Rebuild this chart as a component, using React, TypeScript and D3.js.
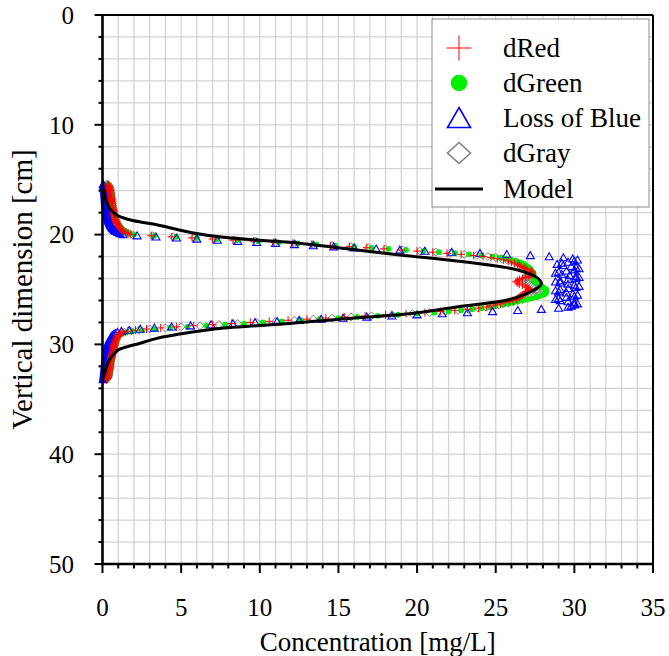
import React from 'react';
import * as d3 from 'd3';

// Depth of each measurement [cm]
const depthCm = [
  15.4, 15.5, 15.6, 15.7, 15.8, 15.9,
  16.0, 16.1, 16.2, 16.3, 16.4, 16.5, 16.6, 16.7, 16.8, 16.9,
  17.0, 17.1, 17.2, 17.3, 17.4, 17.5, 17.6, 17.7, 17.8, 17.9,
  18.0, 18.1, 18.2, 18.3, 18.4, 18.5, 18.6, 18.7, 18.8, 18.9,
  19.0, 19.1, 19.2, 19.3, 19.4, 19.5, 19.6, 19.7, 19.8, 19.9,
  20.0, 20.1, 20.2, 20.3, 20.4, 20.5, 20.6, 20.7, 20.8, 20.9,
  21.0, 21.1, 21.2, 21.3, 21.4, 21.5, 21.6, 21.7, 21.8, 21.9,
  22.0, 22.1, 22.2, 22.3, 22.4, 22.5, 22.6, 22.7, 22.8, 22.9,
  23.0, 23.1, 23.2, 23.3, 23.4, 23.5, 23.6, 23.7, 23.8, 23.9,
  24.0, 24.1, 24.2, 24.3, 24.4, 24.5, 24.6, 24.7, 24.8, 24.9,
  25.0, 25.1, 25.2, 25.3, 25.4, 25.5, 25.6, 25.7, 25.8, 25.9,
  26.0, 26.1, 26.2, 26.3, 26.4, 26.5, 26.6, 26.7, 26.8, 26.9,
  27.0, 27.1, 27.2, 27.3, 27.4, 27.5, 27.6, 27.7, 27.8, 27.9,
  28.0, 28.1, 28.2, 28.3, 28.4, 28.5, 28.6, 28.7, 28.8, 28.9,
  29.0, 29.1, 29.2, 29.3, 29.4, 29.5, 29.6, 29.7, 29.8, 29.9,
  30.0, 30.1, 30.2, 30.3, 30.4, 30.5, 30.6, 30.7, 30.8, 30.9,
  31.0, 31.1, 31.2, 31.3, 31.4, 31.5, 31.6, 31.7, 31.8, 31.9,
  32.0, 32.1, 32.2, 32.3, 32.4, 32.5, 32.6, 32.7, 32.8, 32.9,
  33.0, 33.1, 33.2,
];

// Concentration [mg/L] at each depth, per colour channel
const dRed = [
  0.30, 0.38, 0.42, 0.45, 0.40, 0.48,
  0.50, 0.46, 0.52, 0.50, 0.55, 0.52, 0.56, 0.54, 0.58, 0.56,
  0.60, 0.58, 0.62, 0.60, 0.64, 0.62, 0.66, 0.65, 0.68, 0.67,
  0.70, 0.70, 0.72, 0.74, 0.76, 0.78, 0.80, 0.83, 0.86, 0.89,
  0.92, 0.96, 1.00, 1.05, 1.10, 1.17, 1.25, 1.35, 1.48, 1.62,
  1.8, 3.1, 4.4, 5.7, 7.0, 8.3, 9.6, 10.9, 12.1, 13.3,
  14.5, 15.7, 16.8, 17.9, 19.0, 20.0, 21.0, 21.9, 22.8, 23.6,
  24.2, 24.7, 25.1, 25.5, 25.8, 26.0, 26.2, 26.4, 26.5, 26.6,
  26.8, 26.9, 27.0, 27.2, 27.3, 27.3, 27.3, 27.2, 27.1, 26.9,
  26.7, 26.5, 26.4, 26.3, 26.4, 26.5, 26.7, 26.9, 27.0, 27.1,
  27.1, 27.1, 27.0, 26.9, 26.8, 26.7, 26.6, 26.5, 26.4, 26.3,
  26.1, 25.9, 25.6, 25.3, 25.0, 24.7, 24.4, 23.9, 23.2, 22.4,
  21.5, 20.5, 19.3, 18.0, 16.7, 15.4, 14.2, 13.0, 11.8, 10.6,
  9.4, 8.2, 7.0, 5.8, 4.7, 3.7, 2.8, 2.1, 1.6, 1.3,
  1.15, 1.05, 1.00, 0.95, 0.90, 0.88, 0.84, 0.82, 0.80, 0.77,
  0.75, 0.73, 0.72, 0.70, 0.68, 0.66, 0.65, 0.63, 0.62, 0.60,
  0.58, 0.57, 0.56, 0.54, 0.53, 0.52, 0.50, 0.49, 0.48, 0.47,
  0.46, 0.45, 0.44, 0.43, 0.42, 0.41, 0.40, 0.39, 0.38, 0.36,
  0.34, 0.30, 0.25,
];

const dGreen = [
  0.35, 0.42, 0.45, 0.48, 0.46, 0.50,
  0.52, 0.50, 0.54, 0.53, 0.57, 0.55, 0.58, 0.57, 0.60, 0.59,
  0.62, 0.61, 0.64, 0.63, 0.66, 0.65, 0.68, 0.68, 0.70, 0.70,
  0.72, 0.73, 0.75, 0.77, 0.79, 0.81, 0.84, 0.87, 0.90, 0.93,
  0.97, 1.01, 1.06, 1.11, 1.17, 1.24, 1.33, 1.44, 1.58, 1.75,
  2.0, 3.3, 4.7, 6.0, 7.3, 8.6, 9.9, 11.2, 12.4, 13.6,
  14.8, 16.0, 17.1, 18.2, 19.3, 20.4, 21.4, 22.4, 23.3, 24.1,
  24.8, 25.3, 25.7, 26.0, 26.3, 26.5, 26.7, 26.8, 26.9, 27.0,
  27.1, 27.2, 27.2, 27.3, 27.3, 27.4, 27.4, 27.4, 27.4, 27.4,
  27.4, 27.4, 27.4, 27.5, 27.6, 27.7, 27.8, 27.9, 28.0, 28.1,
  28.2, 28.2, 28.2, 28.2, 28.1, 28.0, 27.8, 27.6, 27.3, 27.0,
  26.7, 26.4, 26.1, 25.8, 25.4, 25.0, 24.6, 24.1, 23.5, 22.8,
  22.0, 21.1, 20.0, 18.8, 17.5, 16.2, 15.0, 13.8, 12.6, 11.4,
  10.2, 9.0, 7.8, 6.6, 5.4, 4.3, 3.3, 2.5, 1.9, 1.5,
  1.25, 1.12, 1.05, 1.00, 0.95, 0.92, 0.88, 0.85, 0.83, 0.80,
  0.78, 0.76, 0.75, 0.73, 0.71, 0.69, 0.68, 0.66, 0.65, 0.63,
  0.61, 0.60, 0.59, 0.57, 0.56, 0.55, 0.53, 0.52, 0.51, 0.50,
  0.49, 0.48, 0.47, 0.46, 0.45, 0.44, 0.43, 0.42, 0.41, 0.39,
  0.37, 0.33, 0.28,
];

const lossOfBlue = [
  0.05, 0.08, 0.10, 0.10, 0.12, 0.12,
  0.14, 0.14, 0.15, 0.15, 0.16, 0.17, 0.17, 0.18, 0.18, 0.19,
  0.20, 0.20, 0.21, 0.22, 0.22, 0.23, 0.24, 0.25, 0.26, 0.27,
  0.28, 0.29, 0.30, 0.32, 0.33, 0.35, 0.37, 0.39, 0.41, 0.44,
  0.47, 0.50, 0.54, 0.58, 0.63, 0.69, 0.76, 0.85, 0.96, 1.10,
  1.3, 2.2, 3.4, 4.7, 6.0, 7.3, 8.6, 9.8, 11.0, 12.2,
  13.4, 14.7, 16.0, 17.4, 18.9, 20.5, 22.2, 24.0, 25.7, 27.2,
  28.4, 29.3, 29.9, 30.2, 30.0, 29.6, 29.2, 28.9, 29.3, 29.8,
  30.1, 30.3, 30.0, 29.5, 29.0, 28.8, 29.2, 29.7, 30.1, 30.3,
  30.1, 29.6, 29.1, 28.8, 29.1, 29.6, 30.0, 30.3, 30.1, 29.6,
  29.1, 28.8, 29.0, 29.5, 29.9, 30.2, 30.0, 29.5, 29.0, 28.8,
  29.1, 29.6, 30.0, 30.2, 30.0, 29.8, 29.6, 29.0, 27.9, 26.4,
  24.8, 23.2, 21.6, 20.0, 18.4, 16.8, 15.3, 13.9, 12.5, 11.1,
  9.7, 8.3, 6.9, 5.6, 4.4, 3.3, 2.4, 1.7, 1.2, 0.95,
  0.80, 0.70, 0.62, 0.56, 0.51, 0.47, 0.44, 0.41, 0.39, 0.37,
  0.35, 0.33, 0.32, 0.30, 0.29, 0.28, 0.27, 0.26, 0.25, 0.24,
  0.23, 0.22, 0.21, 0.20, 0.20, 0.19, 0.18, 0.18, 0.17, 0.16,
  0.16, 0.15, 0.14, 0.14, 0.13, 0.12, 0.12, 0.11, 0.10, 0.09,
  0.08, 0.06, 0.05,
];

const dGray = [
  0.32, 0.40, 0.43, 0.46, 0.43, 0.49,
  0.51, 0.48, 0.53, 0.51, 0.56, 0.53, 0.57, 0.55, 0.59, 0.57,
  0.61, 0.59, 0.63, 0.61, 0.65, 0.63, 0.67, 0.66, 0.69, 0.68,
  0.71, 0.71, 0.73, 0.75, 0.77, 0.79, 0.82, 0.85, 0.88, 0.91,
  0.94, 0.98, 1.03, 1.08, 1.13, 1.20, 1.29, 1.39, 1.53, 1.68,
  1.9, 3.2, 4.5, 5.8, 7.1, 8.4, 9.7, 11.0, 12.2, 13.4,
  14.6, 15.8, 16.9, 18.0, 19.1, 20.2, 21.2, 22.1, 23.0, 23.8,
  24.5, 25.0, 25.4, 25.7, 26.0, 26.2, 26.4, 26.6, 26.7, 26.8,
  26.9, 27.0, 27.1, 27.2, 27.2, 27.2, 27.2, 27.1, 27.0, 26.9,
  26.8, 26.8, 26.8, 26.9, 27.0, 27.1, 27.2, 27.3, 27.4, 27.5,
  27.6, 27.6, 27.7, 27.7, 27.6, 27.5, 27.3, 27.1, 26.9, 26.7,
  26.4, 26.1, 25.8, 25.5, 25.2, 24.8, 24.4, 23.9, 23.3, 22.6,
  21.8, 20.8, 19.7, 18.4, 17.1, 15.8, 14.6, 13.4, 12.2, 11.0,
  9.8, 8.6, 7.4, 6.2, 5.0, 4.0, 3.0, 2.3, 1.8, 1.4,
  1.18, 1.08, 1.02, 0.97, 0.92, 0.90, 0.86, 0.84, 0.81, 0.79,
  0.77, 0.75, 0.73, 0.71, 0.70, 0.68, 0.66, 0.65, 0.63, 0.62,
  0.60, 0.58, 0.57, 0.56, 0.54, 0.53, 0.52, 0.51, 0.50, 0.48,
  0.47, 0.46, 0.45, 0.44, 0.43, 0.42, 0.41, 0.40, 0.39, 0.37,
  0.35, 0.31, 0.26,
];

// Model profile
const modelDepth = [
  15.6, 16.5, 17.5, 18.0, 18.3, 18.6, 18.85, 19.1, 19.45, 19.8, 20.25, 20.5, 20.7,
  21.2, 21.86, 22.4, 23.07, 23.5, 24.0, 24.5, 24.9, 25.35, 25.9, 26.6, 27.2, 27.7,
  28.1, 28.3, 28.5, 28.9, 29.45, 29.9, 30.2, 30.5, 30.9, 31.5, 32.5, 33.3,
];
const modelConc = [
  0.0, 0.15, 0.4, 0.7, 1.0, 1.6, 2.4, 3.45, 4.5, 5.6, 7.7, 9.8, 11.9,
  15.0, 18.9, 22.5, 25.9, 27.0, 27.7, 27.9, 27.6, 27.0, 25.9, 22.5, 19.5, 15.0,
  11.9, 9.8, 7.7, 5.6, 3.45, 2.4, 1.6, 1.0, 0.7, 0.4, 0.15, 0.0,
];

const xTicks = [0, 5, 10, 15, 20, 25, 30, 35];
const yTicks = [0, 10, 20, 30, 40, 50];
const legendLabels = ['dRed', 'dGreen', 'Loss of Blue', 'dGray', 'Model'];

const serifFamilies = ['Times New Roman', 'Liberation Serif'];
const serif = { fontFamily: serifFamilies[0] };

export default function App() {
  const W = 669;
  const H = 656;
  const x = d3.scaleLinear().domain([0, 35]).range([102.5, 653]);
  const y = d3.scaleLinear().domain([0, 50]).range([15, 564]);

  const xMinor = d3.range(0, 36, 1);
  const yMinor = d3.range(0, 51, 2);

  const pts = (vals: number[]) => vals.map((c, i) => [x(c), y(depthCm[i])] as [number, number]);

  const crossPath = (p: [number, number][], s: number) =>
    p.map(([px, py]) => `M${px - s},${py}H${px + s}M${px},${py - s}V${py + s}`).join('');
  const triPath = (p: [number, number][], w: number, h: number) =>
    p.map(([px, py]) => `M${px},${py - h * 0.55}L${px + w / 2},${py + h * 0.45}L${px - w / 2},${py + h * 0.45}Z`).join('');
  const diaPath = (p: [number, number][], w: number, h: number) =>
    p.map(([px, py]) => `M${px},${py - h / 2}L${px + w / 2},${py}L${px},${py + h / 2}L${px - w / 2},${py}Z`).join('');

  const modelLine = d3
    .line<number>()
    .x((c) => x(c))
    .y((_, i) => y(modelDepth[i]))
    .curve(d3.curveCatmullRom.alpha(0.5));

  const x0 = x(0), x1 = x(35), y0 = y(0), y1 = y(50);

  const legendX = 432, legendY = 19, legendW = 217, legendH = 188;
  const symX = 459;
  const rowY = [48, 83, 118, 153, 189];

  return (
    <svg width={W} height={H} style={{ position: 'absolute', left: 0, top: 0, background: '#fff' }}>
      <style>{`.serif-text { font-family: "Times New Roman", "Liberation Serif", serif !important; }`}</style>
      <rect x={0} y={0} width={W} height={H} fill="#fff" />
      {/* grid */}
      <g stroke="#d3d3d3" strokeWidth={1.3}>
        {xMinor.slice(1, -1).map((v) => (
          <line key={'gx' + v} x1={x(v)} x2={x(v)} y1={y0} y2={y1} />
        ))}
        {yMinor.slice(1, -1).map((v) => (
          <line key={'gy' + v} x1={x0} x2={x1} y1={y(v)} y2={y(v)} />
        ))}
      </g>

      {/* measured profiles */}
      <path d={diaPath(pts(dGray), 8, 8)} fill="none" stroke="#808080" strokeWidth={1} />
      <g fill="#00ee00">
        {pts(dGreen).map(([px, py], i) => (
          <circle key={'g' + i} cx={px} cy={py} r={2.9} />
        ))}
      </g>
      <path d={triPath(pts(lossOfBlue), 8, 7)} fill="none" stroke="#0000ff" strokeWidth={1.1} />
      <path d={crossPath(pts(dRed), 4)} fill="none" stroke="#ff0000" strokeWidth={1} />

      {/* model */}
      <path d={modelLine(modelConc) || ''} fill="none" stroke="#000" strokeWidth={3} strokeLinejoin="round" />

      {/* frame */}
      <line x1={x0} x2={x1} y1={y0} y2={y0} stroke="#000" strokeWidth={2} />
      <line x1={x1} x2={x1} y1={y0} y2={y1} stroke="#000" strokeWidth={2} />
      <line x1={x0} x2={x0} y1={y0 - 1} y2={y1 + 1.2} stroke="#000" strokeWidth={2.6} />
      <line x1={x0 - 1.2} x2={x1 + 1} y1={y1} y2={y1} stroke="#000" strokeWidth={2.6} />

      {/* ticks */}
      <g stroke="#000" strokeWidth={2}>
        {yMinor.map((v) => (
          <line key={'ty' + v} x1={x0} x2={x0 - (v % 10 === 0 ? 8 : 4)} y1={y(v)} y2={y(v)} />
        ))}
        {xMinor.map((v) => (
          <line key={'tx' + v} x1={x(v)} x2={x(v)} y1={y1} y2={y1 + (v % 5 === 0 ? 9 : 4.5)} />
        ))}
      </g>

      {/* tick labels */}
      {yTicks.map((v) => (
        <text key={'ly' + v} className="serif-text" x={74} y={y(v) + 8.7} textAnchor="end" fontSize={25} style={serif}>
          {v}
        </text>
      ))}
      {xTicks.map((v) => (
        <text key={'lx' + v} className="serif-text" x={x(v)} y={616} textAnchor="middle" fontSize={25} style={serif}>
          {v}
        </text>
      ))}

      {/* axis titles */}
      <text className="serif-text" x={(x0 + x1) / 2} y={651} textAnchor="middle" fontSize={27} style={serif}>
        Concentration [mg/L]
      </text>
      <text
        className="serif-text"
        transform={`translate(32, ${(y0 + y1) / 2}) rotate(-90)`}
        textAnchor="middle"
        fontSize={29}
        style={serif}
      >
        Vertical dimension [cm]
      </text>

      {/* legend */}
      <rect x={legendX} y={legendY} width={legendW} height={legendH} fill="#fff" stroke="#8c8c8c" strokeWidth={1} />
      <path
        d={`M${symX - 12.5},${rowY[0]}H${symX + 12.5}M${symX},${rowY[0] - 12.5}V${rowY[0] + 12.5}`}
        stroke="#ff0000"
        strokeWidth={1}
      />
      <circle cx={symX} cy={rowY[1]} r={8.3} fill="#00ee00" />
      <path
        d={`M${symX},${rowY[2] - 10.5}L${symX + 11.5},${rowY[2] + 9.5}L${symX - 11.5},${rowY[2] + 9.5}Z`}
        fill="none"
        stroke="#0000ff"
        strokeWidth={1.6}
      />
      <path
        d={`M${symX},${rowY[3] - 10.5}L${symX + 11.5},${rowY[3]}L${symX},${rowY[3] + 10.5}L${symX - 11.5},${rowY[3]}Z`}
        fill="none"
        stroke="#808080"
        strokeWidth={1.6}
      />
      <line x1={435} x2={483} y1={rowY[4]} y2={rowY[4]} stroke="#000" strokeWidth={3} />
      {legendLabels.map((t, i) => (
        <text key={t} className="serif-text" x={503} y={rowY[i] + 9} fontSize={27} style={serif}>
          {t}
        </text>
      ))}
    </svg>
  );
}
